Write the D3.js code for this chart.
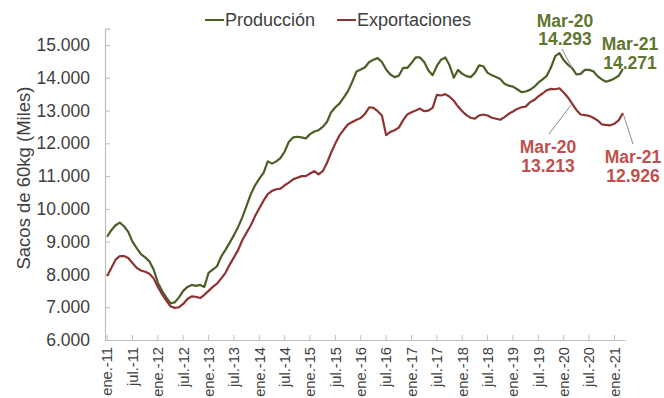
<!DOCTYPE html>
<html>
<head>
<meta charset="utf-8">
<script src="https://cdn.jsdelivr.net/npm/d3@7"></script>
<style>
  html, body { margin: 0; padding: 0; background: #fff; }
  svg { display: block; font-family: "Liberation Sans", Arial, sans-serif; }
</style>
</head>
<body>
<svg id="chart" width="664" height="398"></svg>
<script>
// Monthly series, Jan 2011 – Mar 2021, thousands of 60 kg bags
const monthAbbr = ["ene.", "feb.", "mar.", "abr.", "may.", "jun.", "jul.", "ago.", "sep.", "oct.", "nov.", "dic."];
const years = [11, 12, 13, 14, 15, 16, 17, 18, 19, 20, 21];
const lastMonthOfFinalYear = 3;

const produccion = [
  9150, 9350, 9500, 9580, 9470, 9300, 9000, 8800, 8620, 8520,
  8400, 8150, 7750, 7500, 7300, 7120, 7150, 7300, 7500, 7620,
  7680, 7650, 7680, 7620, 8050, 8150, 8250, 8550, 8750, 8970,
  9200, 9450, 9750, 10100, 10450, 10720, 10920, 11100, 11450, 11380,
  11450, 11550, 11750, 12050, 12180, 12200, 12180, 12150, 12280, 12360,
  12400, 12500, 12650, 12950, 13100, 13220, 13400, 13600, 13880, 14190,
  14250, 14320, 14480, 14550, 14600, 14480, 14250, 14100, 14020, 14060,
  14300, 14300, 14450, 14620, 14620, 14480, 14220, 14080, 14360, 14550,
  14620, 14380, 14000, 14240, 14120, 14050, 14020, 14150, 14380, 14350,
  14150, 14080, 14020, 13960, 13820, 13760, 13730, 13650, 13560, 13580,
  13630, 13720, 13850, 13950, 14060, 14320, 14660, 14750, 14540, 14400,
  14293, 14100, 14120, 14240, 14240, 14200, 14050, 13950, 13880, 13920,
  13980, 14060, 14271
];

const exportaciones = [
  7950, 8200, 8450, 8560, 8560, 8500, 8350, 8200, 8120, 8080,
  8020, 7880, 7620, 7400, 7200, 7030, 6980, 7000, 7100, 7250,
  7330, 7320, 7280, 7380, 7500, 7620, 7720, 7880, 8050, 8300,
  8520, 8750, 9050, 9280, 9500, 9780, 10020, 10250, 10450, 10550,
  10600, 10620, 10720, 10800, 10900, 10950, 11000, 11000, 11080, 11150,
  11050, 11150, 11400, 11720, 12000, 12250, 12420, 12580, 12650, 12720,
  12770, 12900, 13100, 13080, 12980, 12850, 12250, 12350, 12400, 12480,
  12700, 12880, 12950, 13000, 13060, 12980, 13000, 13080, 13480, 13460,
  13500, 13420, 13300, 13120, 12980, 12860, 12780, 12750, 12850, 12880,
  12850, 12780, 12750, 12720, 12800, 12900, 12970, 13050, 13100, 13120,
  13250, 13320, 13430, 13520, 13620, 13660, 13650, 13680, 13550, 13400,
  13213, 13020, 12880, 12860, 12840, 12780, 12700, 12580, 12560, 12550,
  12600, 12700, 12926
];

const yTicks = [6000, 7000, 8000, 9000, 10000, 11000, 12000, 13000, 14000, 15000];
const seriesNames = ["Producción", "Exportaciones"];
const annotated = [
  { series: 0, month: "mar.-20", tag: "Mar-20" },
  { series: 0, month: "mar.-21", tag: "Mar-21" },
  { series: 1, month: "mar.-20", tag: "Mar-20" },
  { series: 1, month: "mar.-21", tag: "Mar-21" }
];

// month labels
const categories = [];
years.forEach((yy, k) => {
  const n = k === years.length - 1 ? lastMonthOfFinalYear : 12;
  for (let m = 0; m < n; m++) categories.push(monthAbbr[m] + "-" + yy);
});

const lineColors = ["#4a5f26", "#8c3433"];
const textColors = ["#5f7530", "#c0504d"];
const seriesData = [produccion, exportaciones];

const es = d3.formatLocale({ decimal: ",", thousands: ".", grouping: [3], currency: ["", ""] });
const fmt = es.format(",.0f");

const svg = d3.select("#chart");
const plot = { left: 105, right: 625, top: 28.6, bottom: 340 };

const x = d3.scaleBand().domain(categories).range([plot.left, plot.right]);
const cx = c => x(c) + x.bandwidth() / 2;
const y = d3.scaleLinear().domain([6000, 15500]).range([plot.bottom, plot.top]);

// y axis
const yAxis = svg.append("g")
  .attr("transform", `translate(${plot.left},0)`)
  .call(d3.axisLeft(y).tickValues(yTicks).tickSize(-5).tickPadding(15).tickFormat(fmt));
yAxis.select(".domain").attr("stroke", "#bfbfbf").attr("stroke-width", 1.2);
yAxis.selectAll(".tick line").attr("stroke", "#bfbfbf");
yAxis.selectAll(".tick text")
  .attr("fill", "#404040").style("font-size", "17.5px");

// x axis, one label every six months
const xAxis = svg.append("g")
  .attr("transform", `translate(0,${plot.bottom})`)
  .call(d3.axisBottom(x).tickValues(categories.filter((c, i) => i % 6 === 0)).tickSize(-5).tickSizeOuter(0));
xAxis.select(".domain").attr("stroke", "#bfbfbf").attr("stroke-width", 1.2);
xAxis.selectAll(".tick line").attr("stroke", "#bfbfbf");
xAxis.selectAll(".tick text")
  .attr("fill", "#404040").style("font-size", "14.7px")
  .attr("transform", "rotate(-90)")
  .attr("text-anchor", "end")
  .attr("x", -7).attr("y", 0).attr("dy", "0.36em");

// y axis title
svg.append("text")
  .attr("transform", "translate(30,178) rotate(-90)")
  .attr("text-anchor", "middle")
  .attr("fill", "#404040")
  .style("font-size", "18.5px")
  .text("Sacos de 60kg (Miles)");

// series lines
const line = d3.line()
  .x((d, i) => cx(categories[i]))
  .y(d => y(d));

seriesData.forEach((vals, s) => {
  svg.append("path")
    .datum(vals)
    .attr("fill", "none")
    .attr("stroke", lineColors[s])
    .attr("stroke-width", 2.2)
    .attr("stroke-linejoin", "round")
    .attr("d", line);
});

// legend
const legendX = [205, 337];
seriesNames.forEach((name, s) => {
  const g = svg.append("g").attr("transform", `translate(${legendX[s]},0)`);
  g.append("line")
    .attr("x1", 0).attr("x2", 19).attr("y1", 20).attr("y2", 20)
    .attr("stroke", lineColors[s]).attr("stroke-width", 2);
  g.append("text")
    .attr("x", 20).attr("y", 26)
    .attr("fill", "#404040")
    .style("font-size", "18px")
    .text(name);
});

// value callouts
const labelPos = [
  { tx: 565, ty: 26.5, lead: [562, 49] },
  { tx: 630, ty: 50, lead: null },
  { tx: 548, ty: 153, lead: [549, 134] },
  { tx: 633, ty: 163, lead: [633, 144] }
];
annotated.forEach((a, k) => {
  const i = categories.indexOf(a.month);
  const v = seriesData[a.series][i];
  const px = cx(a.month), py = y(v);
  const p = labelPos[k];
  if (p.lead) {
    svg.append("line")
      .attr("x1", p.lead[0]).attr("y1", p.lead[1])
      .attr("x2", px).attr("y2", py)
      .attr("stroke", "#8c8c8c").attr("stroke-width", 1);
  }
  const t = svg.append("text")
    .attr("text-anchor", "middle")
    .attr("fill", textColors[a.series])
    .style("font-size", "17.5px")
    .style("font-weight", "bold");
  t.append("tspan").attr("x", p.tx).attr("y", p.ty).text(a.tag);
  t.append("tspan").attr("x", p.tx).attr("y", p.ty + 18.5).text(fmt(v));
});
</script>
</body>
</html>
